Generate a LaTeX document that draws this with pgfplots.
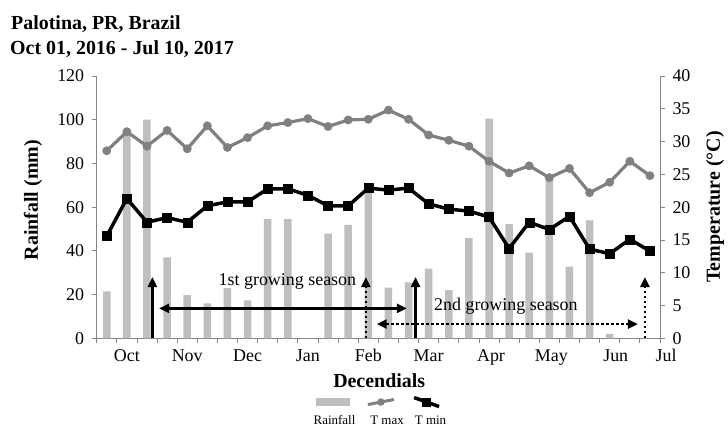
\documentclass[border=0pt]{standalone}
\usepackage{fontspec}
\setmainfont{Liberation Serif}
\usepackage{pgfplots}
\usepackage{pgfplotstable}
\pgfplotsset{compat=1.18}
\usetikzlibrary{arrows.meta}
\definecolor{bargray}{RGB}{191,191,191}
\definecolor{tmaxgray}{RGB}{128,128,128}
\definecolor{axisgray}{RGB}{134,134,134}

\pgfplotstableread{
idx  rain  tmax  tmin
0.5  21.5  28.6  15.6
1.5  94    31.5  21.3
2.5  100   29.3  17.7
3.5  37    31.7  18.4
4.5  19.7  28.9  17.7
5.5  16    32.4  20.2
6.5  23    29.1  20.8
7.5  17.4  30.6  20.8
8.5  54.5  32.4  22.8
9.5  54.5  32.9  22.8
10.5 0     33.5  21.8
11.5 47.9  32.3  20.2
12.5 51.9  33.3  20.2
13.5 69    33.4  22.9
14.5 23.2  34.8  22.6
15.5 25.6  33.4  22.9
16.5 31.9  31.0  20.5
17.5 22    30.2  19.7
18.5 45.8  29.3  19.4
19.5 100.5 27.0  18.5
20.5 52.2  25.2  13.7
21.5 39.2  26.3  17.7
22.5 74    24.5  16.6
23.5 32.8  25.9  18.6
24.5 54    22.2  13.6
25.5 2     23.8  12.9
26.5 0     27.0  15.1
27.5 0     24.8  13.3
}\data

\newcommand\ticklab{\fontsize{18}{20}\selectfont}
\newcommand\boldlab{\bfseries\fontsize{20}{24}\selectfont}

\begin{document}
\begin{tikzpicture}
\pgfplotsset{
  common/.style={
    at={(96.7bp,87.7bp)}, anchor=south west,
    width=563.3bp, height=262.3bp, scale only axis,
    xmin=0, xmax=28, clip=false,
    axis line style={draw=axisgray, line width=0.8bp, -},
    tick style={draw=axisgray, line width=0.8bp},
    tick align=outside, major tick length=5bp,
    /pgf/number format/assume math mode=true,
    ticklabel style={font=\ticklab},
  }
}
\begin{axis}[common,
  ymin=0, ymax=120,
  axis x line*=bottom, axis y line*=left,
  xtick={0,...,28}, xticklabels={},
  ytick={0,20,...,120},
  yticklabel style={xshift=-4bp},
  ylabel={Rainfall (mm)},
  ylabel style={at={(axis description cs:-0.113,0.527)}, anchor=center, font=\boldlab},
  xlabel={Decendials},
  xlabel style={at={(axis description cs:0.5015,-0.1616)}, anchor=center, font=\boldlab},
]
\addplot[ybar, bar width=7.5bp, fill=bargray, draw=none] table[x=idx,y=rain]{\data};

% growing season annotations
\draw[line width=2.3bp, -{Triangle[width=9bp,length=10bp]}] (axis cs:2.77,0) -- (axis cs:2.77,28);
\draw[line width=2.3bp, {Triangle[width=9bp,length=10bp]}-{Triangle[width=9bp,length=10bp]}] (axis cs:3.10,13.7) -- (axis cs:15.42,13.7);
\draw[line width=2.3bp, -{Triangle[width=9bp,length=10bp]}] (axis cs:15.85,0) -- (axis cs:15.85,28);
\draw[line width=2.5bp, dash pattern=on 2.5bp off 2.5bp, -{Triangle[width=9bp,length=10bp]}] (axis cs:13.38,0) -- (axis cs:13.38,28);
\draw[line width=2.5bp, dash pattern=on 2.5bp off 2.5bp, {Triangle[width=9bp,length=10bp]}-{Triangle[width=9bp,length=10bp]}] (axis cs:13.92,6.5) -- (axis cs:26.9,6.5);
\draw[line width=2.5bp, dash pattern=on 2.5bp off 2.5bp, -{Triangle[width=9bp,length=10bp]}] (axis cs:27.25,0) -- (axis cs:27.25,28);
\node[font=\ticklab, inner sep=0pt] at (axis cs:9.48,25.9) {1st growing season};
\node[font=\ticklab, inner sep=0pt] at (axis cs:20.34,14.5) {2nd growing season};

% month labels
\node[anchor=base, font=\ticklab, inner sep=0pt] at (axis cs:1.5,-10.7) {Oct};
\node[anchor=base, font=\ticklab, inner sep=0pt] at (axis cs:4.5,-10.7) {Nov};
\node[anchor=base, font=\ticklab, inner sep=0pt] at (axis cs:7.5,-10.7) {Dec};
\node[anchor=base, font=\ticklab, inner sep=0pt] at (axis cs:10.5,-10.7) {Jan};
\node[anchor=base, font=\ticklab, inner sep=0pt] at (axis cs:13.5,-10.7) {Feb};
\node[anchor=base, font=\ticklab, inner sep=0pt] at (axis cs:16.5,-10.7) {Mar};
\node[anchor=base, font=\ticklab, inner sep=0pt] at (axis cs:19.6,-10.7) {Apr};
\node[anchor=base, font=\ticklab, inner sep=0pt] at (axis cs:22.6,-10.7) {May};
\node[anchor=base, font=\ticklab, inner sep=0pt] at (axis cs:25.8,-10.7) {Jun};
\node[anchor=base, font=\ticklab, inner sep=0pt] at (axis cs:28.3,-10.7) {Jul};
\end{axis}

\begin{axis}[common,
  ymin=0, ymax=40,
  axis x line=none, axis y line*=right,
  ytick={0,5,...,40},
  yticklabel style={xshift=4bp},
  ylabel={Temperature (°C)},
  ylabel style={at={(axis description cs:1.0977,0.5006)}, anchor=center, font=\boldlab},
  legend style={at={(axis description cs:0.501,-0.243)}, anchor=center, draw=none, fill=none,
    legend columns=3, nodes={inner sep=0pt},
    /tikz/every even column/.append style={column sep=16bp}},
]
\addplot[forget plot, tmaxgray, line width=3.2bp, line join=round, mark=*, mark size=4.2bp,
  mark options={line width=0.4bp}] table[x=idx,y=tmax]{\data};
\addplot[forget plot, black, line width=3.5bp, line join=round, mark=square*, mark size=4.5bp,
  mark options={line width=0.4bp}] table[x=idx,y=tmin]{\data};
\addlegendimage{legend image code/.code={\fill[bargray] (0bp,-3.5bp) rectangle (33bp,3.5bp);}}
\addlegendentry{}
\addlegendimage{legend image code/.code={\draw[tmaxgray, line width=3bp] (0bp,-2.5bp) -- (26bp,2.5bp); \fill[tmaxgray] (13bp,0bp) circle (3.5bp);}}
\addlegendentry{}
\addlegendimage{legend image code/.code={\draw[black, line width=3.5bp] (0bp,4.5bp) -- (25bp,-4.5bp); \fill[black] (8.5bp,-4bp) rectangle (16.5bp,4bp);}}
\addlegendentry{}
\end{axis}

\node[font=\bfseries\fontsize{20}{24}\selectfont, anchor=base west, inner sep=0pt] at (11bp,396bp) {Palotina, PR, Brazil};
\node[font=\bfseries\fontsize{20}{24}\selectfont, anchor=base west, inner sep=0pt] at (10bp,371bp) {Oct 01, 2016 - Jul 10, 2017};
\node[font=\fontsize{13}{15}\selectfont, anchor=base, inner sep=0pt] at (334.5bp,1.5bp) {Rainfall};
\node[font=\fontsize{13}{15}\selectfont, anchor=base, inner sep=0pt] at (387bp,1.5bp) {T max};
\node[font=\fontsize{13}{15}\selectfont, anchor=base, inner sep=0pt] at (430.5bp,1.5bp) {T min};

\pgfresetboundingbox
\useasboundingbox (0bp,0bp) rectangle (728bp,426bp);
\end{tikzpicture}
\end{document}
